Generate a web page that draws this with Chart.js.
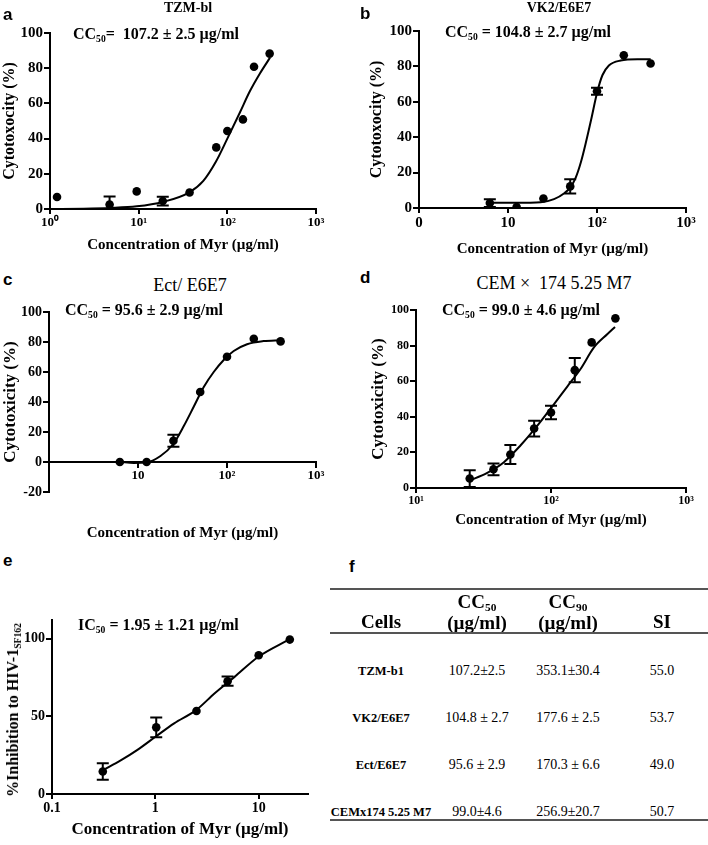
<!DOCTYPE html>
<html>
<head>
<meta charset="utf-8">
<script src="https://cdn.jsdelivr.net/npm/chart.js@4.4.1/dist/chart.umd.min.js"></script>
<style>
  html, body { margin: 0; padding: 0; background: #fff; }
  #fig { position: relative; width: 708px; height: 845px; overflow: hidden; font-family: "Liberation Serif", "Times New Roman", serif; color: #000; }
  #fig canvas { position: absolute; }
  .t { position: absolute; white-space: nowrap; line-height: 1; }
  .c { transform: translate(-50%, -50%); }
  .l { transform: translateY(-50%); }
  .letter { font-family: "Liberation Sans", Arial, sans-serif; font-weight: bold; font-size: 17px; }
  .ann { font-weight: bold; font-size: 16px; }
  .ttl { font-weight: bold; font-size: 14px; }
  .ttl2 { font-size: 18px; }
  sub { font-size: 0.6em; vertical-align: -0.35em; line-height: 0; }
  .hline { position: absolute; height: 2px; background: #555; }
  .th { font-weight: bold; font-size: 19px; }
  .rl { font-weight: bold; font-size: 12.5px; }
  .rv { font-size: 14px; }
</style>
</head>
<body>
<div id="fig">
  <canvas id="chA" width="336" height="233" style="left:0px;top:21px"></canvas>
  <canvas id="chB" width="339" height="239" style="left:367px;top:19px"></canvas>
  <canvas id="chC" width="336" height="250" style="left:0px;top:300px"></canvas>
  <canvas id="chD" width="338" height="231" style="left:368px;top:298px"></canvas>
  <canvas id="chE" width="328" height="232" style="left:0px;top:608px"></canvas>

  <div class="t l letter" style="left:3px;top:14px">a</div>
  <div class="t l letter" style="left:360px;top:13px">b</div>
  <div class="t l letter" style="left:3px;top:279px">c</div>
  <div class="t l letter" style="left:360px;top:277px">d</div>
  <div class="t l letter" style="left:3px;top:560px">e</div>
  <div class="t l letter" style="left:349px;top:566px">f</div>

  <div class="t c ttl" style="left:188px;top:8px">TZM-bl</div>
  <div class="t c ttl" style="left:559px;top:8px">VK2/E6E7</div>
  <div class="t c ttl2" style="left:190px;top:285px">Ect/ E6E7</div>
  <div class="t c ttl2" style="left:554px;top:283px">CEM ×&nbsp;&nbsp;174 5.25 M7</div>

  <div class="t l ann" style="left:73px;top:34px">CC<sub>50</sub>=&nbsp; 107.2 ± 2.5 µg/ml</div>
  <div class="t l ann" style="left:445px;top:32px">CC<sub>50</sub> = 104.8 ± 2.7 µg/ml</div>
  <div class="t l ann" style="left:65px;top:310px">CC<sub>50</sub> = 95.6 ± 2.9 µg/ml</div>
  <div class="t l ann" style="left:442px;top:310px">CC<sub>50</sub> = 99.0 ± 4.6 µg/ml</div>
  <div class="t l ann" style="left:78px;top:625px">IC<sub>50</sub> = 1.95 ± 1.21 µg/ml</div>

  <div class="t ann" style="left:13px;top:710px;transform:translate(-50%,-50%) rotate(-90deg)">%Inhibition to HIV-1<sub>SF162</sub></div>

  <div id="table"></div>
</div>

<script>
// ---- data ----
// a: TZM-bl
const concA = [1.2, 4.7, 9.5, 18.7, 37.5, 75, 100, 150, 200, 300];
const cytoA = [6.8, 2.5, 10, 4.5, 9.4, 35, 44.3, 50.9, 80.8, 88.3];
const errA = [0, 4.6, 0, 2.5, 0, 0, 0, 0, 0, 0];
const fitXA = [1, 2.4, 4.75, 9.5, 18.7, 37.3, 53.6, 74.5, 100, 139, 180, 233, 303];
const fitYA = [0, 0.2, 0.6, 1.5, 4, 9.5, 16, 27, 40, 55, 67, 77, 86];

// b: VK2/E6E7
const concB = [6.25, 12.5, 25, 50, 100, 200, 400];
const cytoB = [2.8, 0.6, 5.4, 12.2, 66, 86.3, 81.6];
const errB = [2.2, 0, 0, 4, 2, 0, 0];
const fitXB = [6.1, 12.4, 23.3, 32.9, 43.3, 50, 57.5, 66, 75, 86, 100, 115, 136, 184, 284, 401];
const fitYB = [3, 3, 3.3, 5, 8.5, 11.5, 17, 26, 37, 50, 65, 75, 80.5, 83.3, 84, 84];

// c: Ect/E6E7
const concC = [6.25, 12.5, 25, 50, 100, 200, 400];
const cytoC = [0, 0, 14.2, 46.7, 70.2, 82.2, 80.4];
const errC = [0, 0, 4, 0, 0, 0, 0];
const fitXC = [6.3, 9, 12.5, 17.9, 24.9, 32.7, 42.4, 54.8, 70.9, 91.8, 119, 168, 257, 402];
const fitYC = [0, -0.6, -0.2, 4, 12, 24, 37, 50, 60, 68, 74, 78.5, 80.6, 81.2];

// d: CEMx174 5.25 M7
const concD = [25, 37.5, 50, 75, 100, 150, 200, 300];
const cytoD = [5.3, 10.5, 18.8, 33.4, 42.4, 66.2, 81.8, 95.3];
const errD = [4.7, 3.3, 5.3, 4.4, 3.8, 6.8, 0, 0];
const fitXD = [24.6, 33.7, 44.8, 59.6, 79.3, 105, 132, 166, 208, 262, 298];
const fitYD = [4, 8.5, 14.5, 24, 35, 47, 57, 67, 79, 86.5, 90.5];

// e: inhibition of HIV-1 SF162
const concE = [0.31, 1.02, 2.5, 5, 10, 20];
const inhE = [14.5, 42.9, 53.4, 72.6, 89.3, 99.4];
const errE = [5.3, 6.4, 0, 3, 0, 0];
const fitXE = [0.318, 0.462, 0.671, 1.01, 1.52, 2.48, 3.73, 5.84, 9.86, 19.6];
const fitYE = [15.6, 21.6, 28.4, 37, 45.5, 54, 64.7, 75.4, 88.2, 99.4];

// tick values / labels
const xTicksA = [1, 10, 100, 1000];
const xLabelsA = ['10\u2070', '10\u00b9', '10\u00b2', '10\u00b3'];
const xTicksB = [1, 10, 100, 1000];
const xLabelsB = ['0', '10', '10\u00b2', '10\u00b3'];
const xTicksC = [10, 100, 1000];
const xLabelsC = ['10', '10\u00b2', '10\u00b3'];
const xTicksD = [10, 100, 1000];
const xLabelsD = ['10\u00b9', '10\u00b2', '10\u00b3'];
const xTicksE = [0.1, 1, 10];
const xLabelsE = ['0.1', '1', '10'];
const yTicks100 = [0, 20, 40, 60, 80, 100];
const yTicksC = [-20, 0, 20, 40, 60, 80, 100];
const yTicksE = [0, 50, 100];

// table f
const tableCells = ['TZM-b1', 'VK2/E6E7', 'Ect/E6E7', 'CEMx174 5.25 M7'];
const tableCC50 = ['107.2\u00b12.5', '104.8 \u00b1 2.7', '95.6 \u00b1 2.9', '99.0\u00b14.6'];
const tableCC90 = ['353.1\u00b130.4', '177.6 \u00b1 2.5', '170.3 \u00b1 6.6', '256.9\u00b120.7'];
const tableSI = ['55.0', '53.7', '49.0', '50.7'];

const serif = '"Liberation Serif", "Times New Roman", serif';
const xTitle = 'Concentration of Myr (\u00b5g/ml)';

// error bars drawn from the point dataset
const errorBars = {
    id: 'errorBars',
    afterDatasetsDraw(chart) {
        const ds = chart.data.datasets[1];
        const xs = chart.scales.x, ys = chart.scales.y;
        const c = chart.ctx, a = chart.chartArea;
        c.save();
        c.beginPath();
        c.rect(a.left, a.top - 10, a.right - a.left, a.bottom - a.top + 10);
        c.clip();
        c.strokeStyle = '#000';
        c.lineWidth = 2;
        ds.data.forEach((p, i) => {
            const e = ds.errors[i];
            if (!e) return;
            const px = xs.getPixelForValue(p.x);
            const y1 = ys.getPixelForValue(p.y - e), y2 = ys.getPixelForValue(p.y + e);
            c.beginPath();
            c.moveTo(px, y1); c.lineTo(px, y2);
            c.moveTo(px - 6, y1); c.lineTo(px + 6, y1);
            c.moveTo(px - 6, y2); c.lineTo(px + 6, y2);
            c.stroke();
        });
        c.restore();
    }
};

function axisBase(size) {
    return {
        grid: { display: true, drawOnChartArea: false, drawTicks: true, tickLength: 5, color: '#000', lineWidth: 2 },
        border: { display: true, color: '#000', width: 2 },
        ticks: { color: '#000', font: { family: serif, weight: 'bold', size: size }, autoSkip: false, maxRotation: 0 }
    };
}

function buildChart(id, s) {
    var fit = s.fitX.map((x, i) => ({ x: x, y: s.fitY[i] }));
    var pts = s.conc.map((x, i) => ({ x: x, y: s.val[i] }));

    var xAxis = axisBase(s.xFont);
    Object.assign(xAxis, {
        type: 'logarithmic', min: s.xMin, max: s.xMax,
        position: s.xPos || 'bottom',
        afterBuildTicks: sc => { sc.ticks = s.xTicks.map(v => ({ value: v })); },
        afterFit: sc => { sc.height = s.xH; },
        title: { display: true, text: xTitle, color: '#000', font: { family: serif, weight: 'bold', size: s.xTitleSize || 15 }, padding: { top: 0, bottom: 0 } }
    });
    xAxis.ticks.padding = 1;
    xAxis.ticks.callback = (v, i) => s.xLabels[i];

    var yAxis = axisBase(s.yFont);
    Object.assign(yAxis, {
        type: 'linear', min: s.yMin, max: s.yMax,
        afterBuildTicks: sc => { sc.ticks = s.yTicks.map(v => ({ value: v })); },
        afterFit: sc => { sc.width = s.yW; },
        title: { display: !!s.yTitle, text: s.yTitle || '', color: '#000', font: { family: serif, weight: 'bold', size: s.yTitleSize || 16 }, padding: { top: 0, bottom: 0 } }
    });
    yAxis.grid.tickLength = 6;
    yAxis.ticks.padding = 1;
    yAxis.ticks.callback = v => String(v);

    return new Chart(document.getElementById(id), {
        type: 'scatter',
        data: {
            datasets: [
                { data: fit, showLine: true, pointRadius: 0, borderColor: '#000', borderWidth: 2, cubicInterpolationMode: 'monotone', fill: false },
                { data: pts, pointRadius: 4.3, pointBackgroundColor: '#000', pointBorderColor: '#000', pointBorderWidth: 0, errors: s.err }
            ]
        },
        options: {
            responsive: false,
            animation: false,
            layout: { padding: { top: 12, right: 20, left: 0, bottom: s.padBottom || 0 } },
            plugins: { legend: { display: false }, tooltip: { enabled: false } },
            scales: { x: xAxis, y: yAxis }
        },
        plugins: [errorBars]
    });
}

buildChart('chA', {
    conc: concA, val: cytoA, err: errA, fitX: fitXA, fitY: fitYA,
    xMin: 1, xMax: 1000, xTicks: xTicksA, xLabels: xLabelsA, xFont: 13, xH: 45,
    yMin: 0, yMax: 100, yTicks: yTicks100, yFont: 15, yW: 50, yTitle: 'Cytotoxocity (%)'
});

buildChart('chB', {
    conc: concB, val: cytoB, err: errB, fitX: fitXB, fitY: fitYB,
    xMin: 1, xMax: 1000, xTicks: xTicksB, xLabels: xLabelsB, xFont: 15, xH: 50,
    yMin: 0, yMax: 100, yTicks: yTicks100, yFont: 15, yW: 52, yTitle: 'Cytotoxocity (%)'
});

buildChart('chC', {
    conc: concC, val: cytoC, err: errC, fitX: fitXC, fitY: fitYC,
    xMin: 1, xMax: 1000, xTicks: xTicksC, xLabels: xLabelsC, xFont: 13, xH: 80, xPos: { y: 0 },
    yMin: -20, yMax: 100, yTicks: yTicksC, yFont: 14, yW: 49, yTitle: 'Cytotoxicity (%)', yTitleSize: 17,
    padBottom: 58
});

buildChart('chD', {
    conc: concD, val: cytoD, err: errD, fitX: fitXD, fitY: fitYD,
    xMin: 10, xMax: 1000, xTicks: xTicksD, xLabels: xLabelsD, xFont: 12, xH: 41,
    yMin: 0, yMax: 100, yTicks: yTicks100, yFont: 12, yW: 48, yTitle: 'Cytotoxicity (%)', yTitleSize: 17
});

buildChart('chE', {
    conc: concE, val: inhE, err: errE, fitX: fitXE, fitY: fitYE,
    xMin: 0.1, xMax: 30, xTicks: xTicksE, xLabels: xLabelsE, xFont: 14, xH: 46, xTitleSize: 17,
    yMin: 0, yMax: 112, yTicks: yTicksE, yFont: 14, yW: 52
});

// table f
(function () {
    var t = document.getElementById('table');
    var html = '';
    function txt(cls, x, y, s) {
        html += '<div class="t c ' + cls + '" style="left:' + x + 'px;top:' + y + 'px">' + s + '</div>';
    }
    var colX = [381, 477, 568, 662];
    html += '<div class="hline" style="left:330px;width:378px;top:588px"></div>';
    txt('th', colX[0], 621, 'Cells');
    txt('th', colX[1], 601, 'CC<sub>50</sub>');
    txt('th', colX[1], 622, '(\u00b5g/ml)');
    txt('th', colX[2], 601, 'CC<sub>90</sub>');
    txt('th', colX[2], 622, '(\u00b5g/ml)');
    txt('th', colX[3], 621, 'SI');
    html += '<div class="hline" style="left:330px;width:378px;top:632px"></div>';
    tableCells.forEach(function (name, i) {
        var y = 671 + i * 47;
        txt('rl', colX[0], y, name);
        txt('rv', colX[1], y, tableCC50[i]);
        txt('rv', colX[2], y, tableCC90[i]);
        txt('rv', colX[3], y, tableSI[i]);
    });
    html += '<div class="hline" style="left:330px;width:378px;top:819px"></div>';
    t.innerHTML = html;
})();
</script>
</body>
</html>
